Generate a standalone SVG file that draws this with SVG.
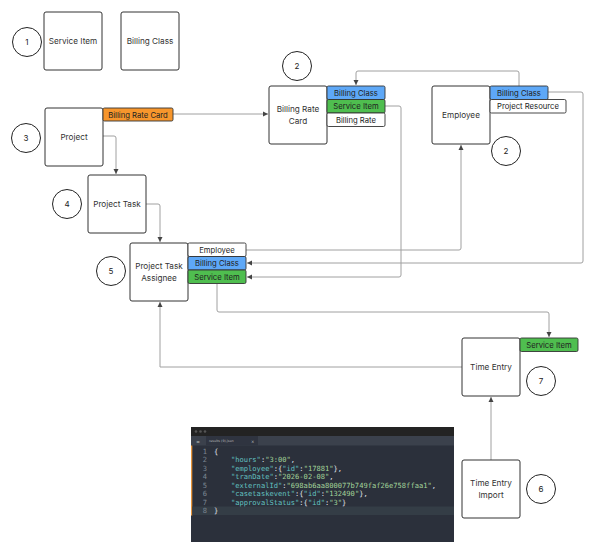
<svg xmlns="http://www.w3.org/2000/svg" width="600" height="556" viewBox="0 0 600 556">
<style>
.box{fill:#fff;stroke:#333;stroke-width:1}
.lbl{font-family:Inter,"Liberation Sans",sans-serif;font-size:8.2px;fill:#333;text-anchor:middle}
.tab{stroke:#333;stroke-width:0.9}
.tl{font-family:Inter,"Liberation Sans",sans-serif;font-size:7.7px;fill:#222;text-anchor:middle}
.num{fill:#fff;stroke:#222;stroke-width:1}
.nt{font-family:Inter,"Liberation Sans",sans-serif;font-size:8px;fill:#222;text-anchor:middle}
.con{fill:none;stroke:#a0a0a0;stroke-width:1}
.code{font-family:"DejaVu Sans Mono","Liberation Mono",monospace;font-size:7.1px}
.k{fill:#62c0c0}.s{fill:#a3d49a}.p{fill:#e2e6ee}.ln{fill:#7c8792;text-anchor:end}
</style>
<defs>
<marker id="ah" markerWidth="6" markerHeight="6" refX="5" refY="3" orient="auto" markerUnits="userSpaceOnUse">
<path d="M0,0.5 L5,3 L0,5.5 z" fill="#444"/>
</marker>
</defs>
<rect width="600" height="556" fill="#fff"/>

<g id="connectors">
<path class="con" d="M173,114 H268" marker-end="url(#ah)"/>
<path class="con" d="M103,136 H114 Q116,136 116,138 V174" marker-end="url(#ah)"/>
<path class="con" d="M146,204 H158 Q160,204 160,206 V242" marker-end="url(#ah)"/>
<path class="con" d="M519,86 V73 Q519,71 517,71 H358 Q356,71 356,73 V85" marker-end="url(#ah)"/>
<path class="con" d="M548,92 H581 Q583,92 583,94 V261 Q583,263 581,263 H247" marker-end="url(#ah)"/>
<path class="con" d="M385,106 H399 Q401,106 401,108 V275 Q401,277 399,277 H247" marker-end="url(#ah)"/>
<path class="con" d="M246,250 H459 Q461,250 461,248 V145" marker-end="url(#ah)"/>
<path class="con" d="M217,284 V310 Q217,312 219,312 H547 Q549,312 549,314 V337" marker-end="url(#ah)"/>
<path class="con" d="M462,367 H160 V302" marker-end="url(#ah)"/>
<path class="con" d="M491,460 V397" marker-end="url(#ah)"/>
</g>

<g id="n1">
<circle class="num" cx="27" cy="42" r="14.5"/><text class="nt" x="27" y="45">1</text>
</g>
<g id="service-item">
<rect class="box" x="44" y="12" width="58" height="58" rx="2"/>
<text class="lbl" x="73" y="44">Service Item</text>
</g>
<g id="billing-class">
<rect class="box" x="121" y="12" width="58" height="58" rx="2"/>
<text class="lbl" x="150" y="44">Billing Class</text>
</g>

<g id="project">
<circle class="num" cx="26" cy="138" r="14.5"/><text class="nt" x="26" y="141">3</text>
<rect class="box" x="45" y="108" width="58" height="58" rx="2"/>
<text class="lbl" x="74" y="140">Project</text>
<rect class="tab" x="103" y="108" width="70" height="13" rx="1.5" fill="#f7962c"/>
<text class="tl" x="138" y="117.6">Billing Rate Card</text>
</g>

<g id="project-task">
<circle class="num" cx="67" cy="204" r="14.5"/><text class="nt" x="67" y="207">4</text>
<rect class="box" x="88" y="175" width="58" height="58" rx="2"/>
<text class="lbl" x="117" y="207">Project Task</text>
</g>

<g id="project-task-assignee">
<circle class="num" cx="111" cy="271" r="14.5"/><text class="nt" x="111" y="274">5</text>
<rect class="box" x="130" y="243" width="58" height="58" rx="2"/>
<text class="lbl" x="159" y="269">Project Task</text>
<text class="lbl" x="159" y="281">Assignee</text>
<rect class="tab" x="188" y="243" width="58" height="13.5" rx="1.5" fill="#fff"/>
<text class="tl" x="217" y="252.6">Employee</text>
<rect class="tab" x="188" y="256.5" width="58" height="13.5" rx="1.5" fill="#5ea8f7"/>
<text class="tl" x="217" y="266">Billing Class</text>
<rect class="tab" x="188" y="270" width="58" height="13.5" rx="1.5" fill="#4fbe4f"/>
<text class="tl" x="217" y="279.6">Service Item</text>
</g>

<g id="billing-rate-card">
<circle class="num" cx="297" cy="66" r="14.5"/><text class="nt" x="297" y="69">2</text>
<rect class="box" x="269" y="86" width="58" height="58" rx="2"/>
<text class="lbl" x="298" y="112">Billing Rate</text>
<text class="lbl" x="298" y="124">Card</text>
<rect class="tab" x="327" y="86" width="58" height="13.5" rx="1.5" fill="#5ea8f7"/>
<text class="tl" x="356" y="95.6">Billing Class</text>
<rect class="tab" x="327" y="99.5" width="58" height="13.5" rx="1.5" fill="#4fbe4f"/>
<text class="tl" x="356" y="109">Service Item</text>
<rect class="tab" x="327" y="113" width="58" height="13.5" rx="1.5" fill="#fff"/>
<text class="tl" x="356" y="122.6">Billing Rate</text>
</g>

<g id="employee">
<circle class="num" cx="506" cy="151" r="14.5"/><text class="nt" x="506" y="154">2</text>
<rect class="box" x="432" y="86" width="58" height="58" rx="2"/>
<text class="lbl" x="461" y="118">Employee</text>
<rect class="tab" x="490" y="86" width="58" height="13.5" rx="1.5" fill="#5ea8f7"/>
<text class="tl" x="519" y="95.6">Billing Class</text>
<rect class="tab" x="490" y="99.5" width="76" height="13.5" rx="1.5" fill="#fff"/>
<text class="tl" x="528" y="109">Project Resource</text>
</g>

<g id="time-entry">
<circle class="num" cx="541" cy="381" r="14.5"/><text class="nt" x="541" y="384">7</text>
<rect class="box" x="462" y="338" width="58" height="58" rx="2"/>
<text class="lbl" x="491" y="370">Time Entry</text>
<rect class="tab" x="520" y="338" width="58" height="13.5" rx="1.5" fill="#4fbe4f"/>
<text class="tl" x="549" y="347.6">Service Item</text>
</g>

<g id="time-entry-import">
<circle class="num" cx="541" cy="489" r="14.5"/><text class="nt" x="541" y="492">6</text>
<rect class="box" x="462" y="460" width="58" height="58" rx="2"/>
<text class="lbl" x="491" y="486">Time Entry</text>
<text class="lbl" x="491" y="498">Import</text>
</g>

<g id="code-screenshot">
<rect x="191" y="427" width="263" height="115" fill="#2b303b"/>
<rect x="191" y="427" width="263" height="9" fill="#232323"/>
<circle cx="196" cy="431.5" r="1.3" fill="#555"/>
<circle cx="200.5" cy="431.5" r="1.3" fill="#555"/>
<circle cx="205" cy="431.5" r="1.3" fill="#555"/>
<rect x="191" y="436" width="263" height="9.5" fill="#3b414c"/>
<rect x="206" y="436" width="52" height="9.5" fill="#2f3440"/>
<text x="196" y="442.5" font-family="DejaVu Sans" font-size="4" fill="#aaa">◂▸</text>
<text x="209" y="442.3" font-family="DejaVu Sans" font-size="3.3" fill="#bbb">results (9).json</text>
<text x="251" y="442.5" font-family="DejaVu Sans" font-size="4" fill="#bbb">×</text>
<rect x="191" y="445.5" width="1.3" height="70" fill="#e8953a"/>
<rect x="192.3" y="506.5" width="261.7" height="8.5" fill="#343d46"/>
<g class="code">
<text class="ln" x="207" y="453.5">1</text>
<text class="ln" x="207" y="462">2</text>
<text class="ln" x="207" y="470.5">3</text>
<text class="ln" x="207" y="479">4</text>
<text class="ln" x="207" y="487.5">5</text>
<text class="ln" x="207" y="496">6</text>
<text class="ln" x="207" y="504.5">7</text>
<text class="ln" x="207" y="513" fill="#c0c5ce">8</text>
<text class="p" x="214" y="453.5">{</text>
<text x="231" y="462"><tspan class="k">"hours"</tspan><tspan class="p">:</tspan><tspan class="s">"3:00"</tspan><tspan class="p">,</tspan></text>
<text x="231" y="470.5"><tspan class="k">"employee"</tspan><tspan class="p">:{</tspan><tspan class="k">"id"</tspan><tspan class="p">:</tspan><tspan class="s">"17881"</tspan><tspan class="p">},</tspan></text>
<text x="231" y="479"><tspan class="k">"tranDate"</tspan><tspan class="p">:</tspan><tspan class="s">"2026-02-08"</tspan><tspan class="p">,</tspan></text>
<text x="231" y="487.5"><tspan class="k">"externalId"</tspan><tspan class="p">:</tspan><tspan class="s">"698ab6aa800077b749faf26e758ffaa1"</tspan><tspan class="p">,</tspan></text>
<text x="231" y="496"><tspan class="k">"casetaskevent"</tspan><tspan class="p">:{</tspan><tspan class="k">"id"</tspan><tspan class="p">:</tspan><tspan class="s">"132490"</tspan><tspan class="p">},</tspan></text>
<text x="231" y="504.5"><tspan class="k">"approvalStatus"</tspan><tspan class="p">:{</tspan><tspan class="k">"id"</tspan><tspan class="p">:</tspan><tspan class="s">"3"</tspan><tspan class="p">}</tspan></text>
<text class="p" x="214" y="513">}</text>
</g>
</g>
</svg>
